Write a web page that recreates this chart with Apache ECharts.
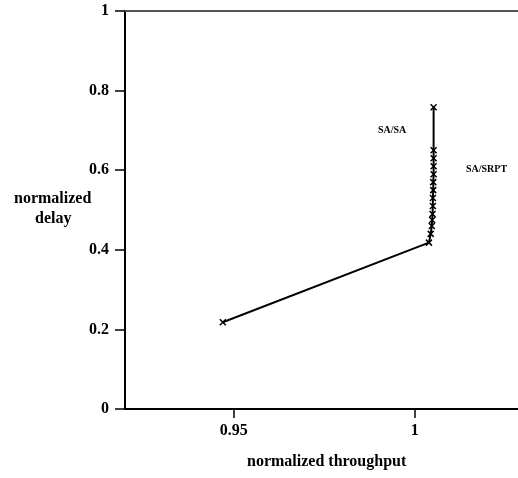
<!doctype html>
<html>
<head>
<meta charset="UTF-8">
<script src="https://cdn.jsdelivr.net/npm/echarts@6/dist/echarts.min.js"></script>
<style>
  html, body { margin: 0; padding: 0; background: #fff; }
  #chart { width: 518px; height: 478px; }
</style>
</head>
<body>
<div id="chart"></div>
<script>
// throughput / delay points
var throughput = [0.947, 1.0039, 1.0044, 1.0047, 1.0048, 1.0049, 1.005, 1.005, 1.0051, 1.0051, 1.0052, 1.0052, 1.0052, 1.0052, 1.0052];
var delay      = [0.218, 0.418, 0.44, 0.46, 0.475, 0.49, 0.51, 0.53, 0.55, 0.57, 0.59, 0.61, 0.63, 0.65, 0.758];
var xTicks = [0.95, 1];
var yTicks = [0, 0.2, 0.4, 0.6, 0.8, 1];

var pts = [];
for (var i = 0; i < throughput.length; i++) pts.push([throughput[i], delay[i]]);

var font = '"Liberation Serif", "DejaVu Serif", serif';
var chart = echarts.init(document.getElementById('chart'));
chart.setOption({
    animation: false,
    backgroundColor: '#fff',
    grid: { left: 125, right: 0, top: 11, bottom: 69 },
    xAxis: [{
        type: 'value',
        min: 0.92,
        max: 1.0285,
        splitLine: { show: false },
        axisLine: { lineStyle: { color: '#000', width: 2 } },
        axisTick: {
            show: true, length: 9, lineStyle: { color: '#000', width: 1.5 },
            customValues: xTicks
        },
        axisLabel: {
            color: '#000', fontFamily: font, fontWeight: 'bold', fontSize: 16, margin: 14,
            customValues: xTicks,
            formatter: function (v) { return String(+v.toFixed(2)); }
        }
    }, {
        type: 'value',
        position: 'top',
        min: 0.92,
        max: 1.0285,
        splitLine: { show: false },
        axisLine: { lineStyle: { color: '#555', width: 2 } },
        axisTick: { show: false },
        axisLabel: { show: false }
    }],
    yAxis: {
        type: 'value',
        min: 0,
        max: 1,
        interval: 0.2,
        splitLine: { show: false },
        axisLine: { lineStyle: { color: '#000', width: 2 } },
        axisTick: { show: true, length: 10, lineStyle: { color: '#000', width: 1.5 } },
        axisLabel: {
            color: '#000', fontFamily: font, fontWeight: 'bold', fontSize: 16, margin: 16,
            customValues: yTicks,
            formatter: function (v) { return String(+v.toFixed(1)); }
        }
    },
    series: [{
        type: 'line',
        data: pts,
        symbol: 'path://M0,0L10,10M10,0L0,10',
        symbolSize: 6,
        itemStyle: { color: 'none', borderColor: '#000', borderWidth: 1.5 },
        lineStyle: { color: '#000', width: 2 }
    }],
    graphic: [
        { type: 'text', left: 14, top: 191, style: { text: 'normalized', fill: '#000', font: 'bold 16px ' + font } },
        { type: 'text', left: 35, top: 211, style: { text: 'delay', fill: '#000', font: 'bold 16px ' + font } },
        { type: 'text', left: 247, top: 454, style: { text: 'normalized throughput', fill: '#000', font: 'bold 16px ' + font } },
        { type: 'text', left: 378, top: 125, style: { text: 'SA/SA', fill: '#000', font: 'bold 10px ' + font } },
        { type: 'text', left: 466, top: 164, style: { text: 'SA/SRPT', fill: '#000', font: 'bold 10px ' + font } }
    ]
});
</script>
</body>
</html>
